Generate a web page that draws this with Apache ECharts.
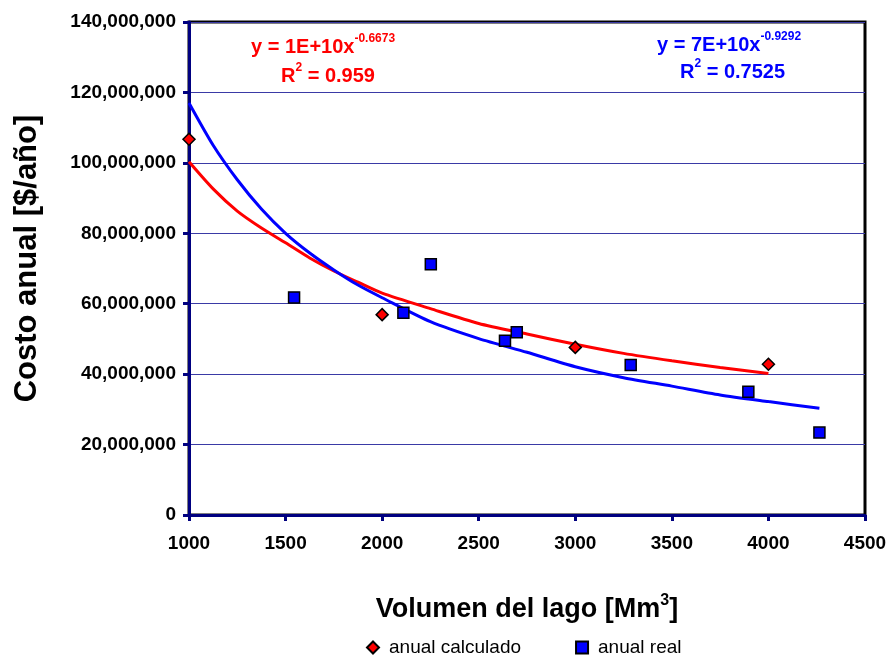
<!DOCTYPE html>
<html>
<head>
<meta charset="utf-8">
<script src="https://cdn.jsdelivr.net/npm/echarts@6/dist/echarts.min.js"></script>
<style>
html,body{margin:0;padding:0;background:#fff;}
#chart{width:891px;height:655px;}
</style>
</head>
<body>
<div id="chart"></div>
<script>
// Data
const calcName = 'anual calculado';
const realName = 'anual real';
const calcX = [1000, 2000, 3000, 4000];
const calcY = [106700000, 56900000, 47600000, 42800000];
const realX = [1544, 2110, 2252, 2636, 2697, 3287, 3896, 4264];
const realY = [61800000, 57400000, 71200000, 49500000, 51900000, 42600000, 35000000, 23400000];
// Trendlines (potential fits)
const redTrendX = [1000, 1125, 1250, 1375, 1500, 1625, 1750, 1875, 2000, 2250, 2500, 2750, 3000, 3250, 3500, 3750, 4000];
const redTrendY = [100300000, 92600000, 86300000, 81500000, 77300000, 73000000, 69300000, 66100000, 63000000, 58600000, 54400000, 51400000, 48500000, 45900000, 43800000, 41900000, 40200000];
const blueTrendX = [1000, 1125, 1250, 1375, 1500, 1625, 1750, 1875, 2000, 2250, 2500, 2750, 3000, 3250, 3500, 3750, 4000, 4264];
const blueTrendY = [117000000, 105000000, 95200000, 86900000, 80000000, 74400000, 69600000, 65300000, 61700000, 54900000, 50100000, 46200000, 42100000, 39000000, 36600000, 34100000, 32200000, 30300000];
const xTicks = {min: 1000, max: 4500, interval: 500};
const yTicks = {min: 0, max: 140000000, interval: 20000000};
const redEq = {base: 'y = 1E+10x', exp: '-0.6673', r2: '0.959'};
const blueEq = {base: 'y = 7E+10x', exp: '-0.9292', r2: '0.7525'};

const zip = (xs, ys) => xs.map((x, i) => [x, ys[i]]);
const chart = echarts.init(document.getElementById('chart'), null, {renderer: 'canvas'});
const FONT = 'Liberation Sans, Arial, sans-serif';
const navy = '#000080';

function eqText(eq, color, left, top, left2, top2) {
  const rich = {
    m: {fontSize: 20, fontWeight: 'bold', fontFamily: FONT, fill: color, color: color, lineHeight: 24, verticalAlign: 'bottom'},
    s: {fontSize: 12, fontWeight: 'bold', fontFamily: FONT, fill: color, color: color, lineHeight: 24, verticalAlign: 'top'}
  };
  return [
    {type: 'text', left: left, top: top, z: 100,
      style: {text: '{m|' + eq.base + '}{s|' + eq.exp + '}', rich: rich, fill: color}},
    {type: 'text', left: left2, top: top2, z: 100,
      style: {text: '{m|R}{s|2}{m| = ' + eq.r2 + '}', rich: rich, fill: color}}
  ];
}

const option = {
  backgroundColor: '#ffffff',
  animation: false,
  grid: {left: 189, right: 26, top: 22, bottom: 140, show: true, borderColor: '#000', borderWidth: 3, backgroundColor: '#fff'},
  legend: {
    data: [{name: calcName, icon: 'diamond'}, {name: realName, icon: 'rect'}],
    left: 361, top: 633, itemWidth: 12, itemHeight: 12, itemGap: 54,
    textStyle: {fontSize: 19, fontFamily: FONT, color: '#000', padding: [0, 0, 0, 5]}
  },
  xAxis: {
    type: 'value', min: xTicks.min, max: xTicks.max, interval: xTicks.interval,
    name: 'Volumen del lago [Mm{sup|3}]', nameLocation: 'middle', nameGap: 78,
    nameTextStyle: {fontSize: 27, fontWeight: 'bold', fontFamily: FONT, color: '#000',
      rich: {sup: {fontSize: 16, fontWeight: 'bold', fontFamily: FONT, color: '#000', verticalAlign: 'top', lineHeight: 34}}},
    axisLine: {show: true, lineStyle: {color: navy, width: 3}},
    axisTick: {show: true, inside: false, length: 6, lineStyle: {color: navy, width: 3}},
    axisLabel: {fontSize: 19, fontWeight: 'bold', fontFamily: FONT, color: '#000', margin: 19,
      formatter: v => String(v)},
    splitLine: {show: false}
  },
  yAxis: {
    type: 'value', min: yTicks.min, max: yTicks.max, interval: yTicks.interval,
    name: 'Costo anual [$/año]', nameLocation: 'middle', nameGap: 146, nameRotate: 90,
    nameTextStyle: {fontSize: 31, fontWeight: 'bold', fontFamily: FONT, color: '#000', padding: [0, 0, 0, 20]},
    axisLine: {show: true, lineStyle: {color: navy, width: 3}},
    axisTick: {show: true, inside: false, length: 6, lineStyle: {color: navy, width: 3}},
    axisLabel: {fontSize: 19, fontWeight: 'bold', fontFamily: FONT, color: '#000', margin: 13,
      formatter: v => v.toLocaleString('en-US')},
    splitLine: {show: true, lineStyle: {color: '#3a3aa6', width: 1}}
  },
  series: [
    {name: 'trend calculado', type: 'line', data: zip(redTrendX, redTrendY), showSymbol: false, smooth: 0.25,
      lineStyle: {color: '#ff0000', width: 3}, itemStyle: {color: '#ff0000'}, z: 2, silent: true},
    {name: 'trend real', type: 'line', data: zip(blueTrendX, blueTrendY), showSymbol: false, smooth: 0.25,
      lineStyle: {color: '#0000ff', width: 3}, itemStyle: {color: '#0000ff'}, z: 2, silent: true},
    {name: calcName, type: 'scatter', data: zip(calcX, calcY), symbol: 'diamond', symbolSize: 12,
      itemStyle: {color: '#ff0000', borderColor: '#000', borderWidth: 1.5, opacity: 1}, z: 5},
    {name: realName, type: 'scatter', data: zip(realX, realY), symbol: 'rect', symbolSize: 11,
      itemStyle: {color: '#0000ff', borderColor: '#000', borderWidth: 1.5, opacity: 1}, z: 5}
  ],
  graphic: [].concat(
    eqText(redEq, '#ff0000', 251, 33, 281, 62),
    eqText(blueEq, '#0000ff', 657, 31, 680, 58)
  )
};
chart.setOption(option);
</script>
</body>
</html>
